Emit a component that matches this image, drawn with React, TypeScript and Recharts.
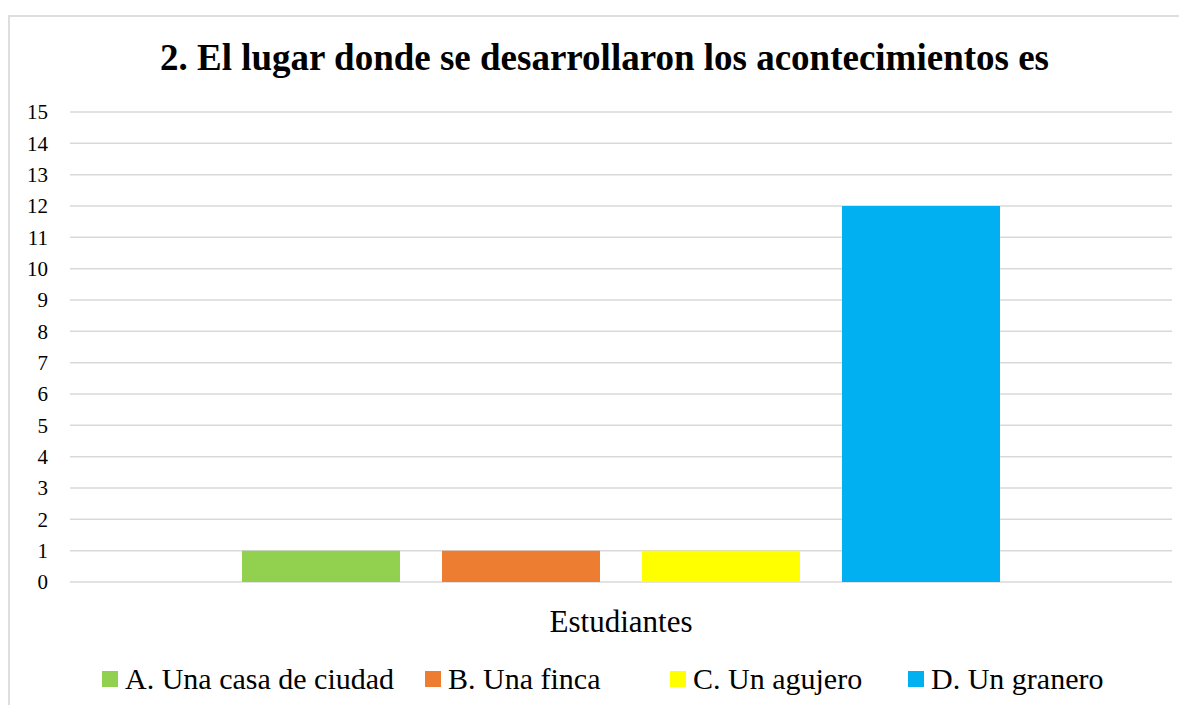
import { BarChart, Bar, XAxis, YAxis, CartesianGrid, Legend } from "recharts";

const categories = ["Estudiantes"];
const seriesNames = [
  "A. Una casa de ciudad",
  "B. Una finca",
  "C. Un agujero",
  "D. Un granero",
];
const seriesColors = ["#92D050", "#ED7D31", "#FFFF00", "#00B0F0"];
const seriesValues = [[1], [1], [1], [12]];
const yTicks = [0, 1, 2, 3, 4, 5, 6, 7, 8, 9, 10, 11, 12, 13, 14, 15];

const title = "2. El lugar donde se desarrollaron los acontecimientos es";

// widths of the legend entries, as laid out in the original
const legendItemWidths = [323, 245, 238, 220];

const data = categories.map((name, i) => {
  const row: Record<string, string | number> = { name };
  seriesNames.forEach((s, j) => {
    row[s] = seriesValues[j][i];
  });
  return row;
});

const font = '"Liberation Serif", "Times New Roman", serif';

function LegendContent(props: any) {
  const items = props.payload || [];
  return (
    <div
      style={{
        height: 40,
        display: "flex",
        justifyContent: "flex-start",
        alignItems: "center",
        paddingLeft: 82,
        fontFamily: font,
        fontSize: 30,
        color: "#000",
      }}
    >
      {items.map((it: any, i: number) => (
        <div
          key={i}
          style={{
            display: "flex",
            alignItems: "center",
            width: legendItemWidths[i],
            flex: "none",
            whiteSpace: "nowrap",
          }}
        >
          <span
            style={{
              display: "inline-block",
              width: 16,
              height: 16,
              background: it.color,
              marginRight: 7,
            }}
          />
          <span style={{ lineHeight: "40px" }}>{it.value}</span>
        </div>
      ))}
    </div>
  );
}

export default function App() {
  return (
    <div style={{ paddingTop: 7 }}>
      <div
        style={{
          position: "relative",
          width: 1177,
          height: 688,
          borderTop: "2px solid #dedede",
          borderLeft: "2px solid #dedede",
          background: "#fff",
        }}
      >
        <div
          style={{
            position: "absolute",
            top: 23,
            left: 0,
            width: 1177,
            paddingLeft: 12,
            boxSizing: "border-box",
            textAlign: "center",
            fontFamily: font,
            fontWeight: "bold",
            fontSize: 37,
            lineHeight: "36px",
            color: "#000",
            whiteSpace: "nowrap",
          }}
        >
          {title}
        </div>
        <BarChart
          width={1177}
          height={688}
          data={data}
          margin={{ top: 95, right: 15, bottom: 6, left: 10 }}
          barCategoryGap={172}
          barGap={42}
        >
          <CartesianGrid vertical={false} stroke="#d9d9d9" strokeWidth={1.5} />
          <XAxis
            dataKey="name"
            axisLine={false}
            tickLine={false}
            tickSize={0}
            tickMargin={28}
            height={77}
            tick={{ fill: "#000", fontSize: 31, fontFamily: font }}
          />
          <YAxis
            width={50}
            domain={[0, 15]}
            ticks={yTicks}
            interval={0}
            axisLine={false}
            tickLine={false}
            tickSize={0}
            tickMargin={22}
            tick={{ fill: "#000", fontSize: 21, fontFamily: font }}
          />
          <Legend verticalAlign="bottom" content={<LegendContent />} />
          {seriesNames.map((s, j) => (
            <Bar
              key={s}
              dataKey={s}
              fill={seriesColors[j]}
              isAnimationActive={false}
            />
          ))}
        </BarChart>
      </div>
    </div>
  );
}
